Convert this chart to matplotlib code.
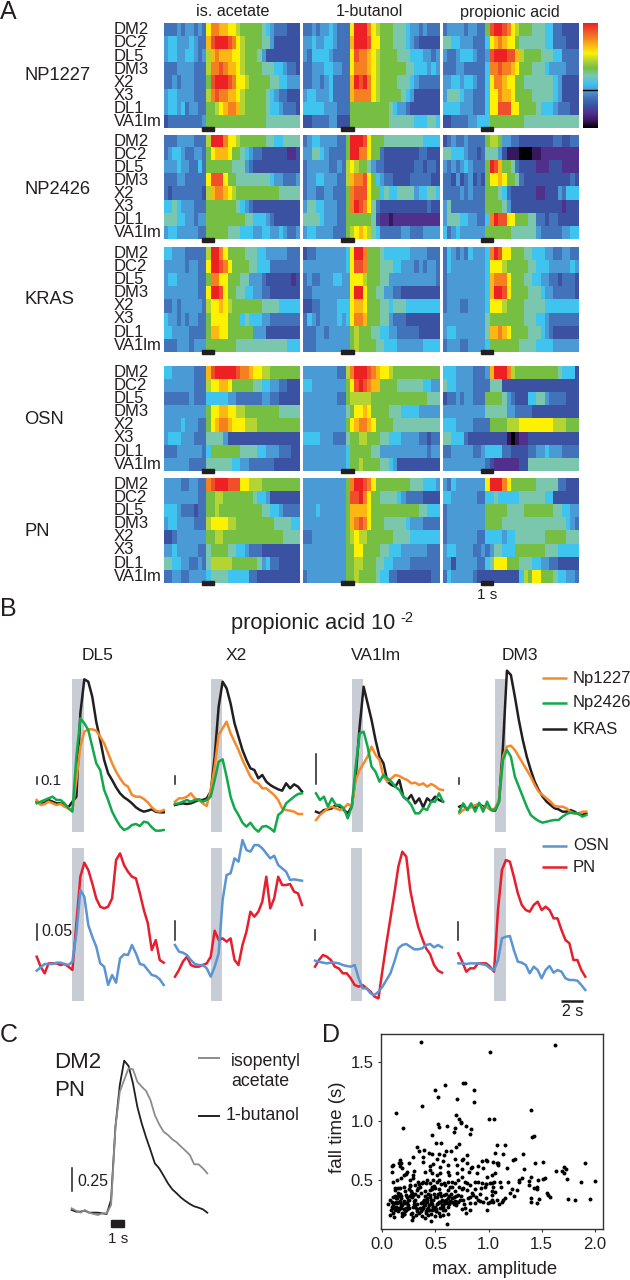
import numpy as np
import matplotlib
matplotlib.use('Agg')
import matplotlib.pyplot as plt
from matplotlib.colors import LinearSegmentedColormap
from matplotlib.lines import Line2D
from matplotlib.patches import Rectangle

plt.rcParams['font.family'] = ['Liberation Sans', 'DejaVu Sans']

W, H = 630, 1280

GLOMERULI = ['DM2', 'DC2', 'DL5', 'DM3', 'X2', 'X3', 'DL1', 'VA1lm']
ODORS = ['is. acetate', '1-butanol', 'propionic acid']
LINES = ['NP1227', 'NP2426', 'KRAS', 'OSN', 'PN']

# heat levels, one hex digit per time bin (0 black ... e red)
NP1227_ACETATE = [
    "4445455454 accbbaa9888 88765444333",
    "5665556544 bdeeedca988 88775333333",
    "5665566545 9bcbbbaa988 87533333333",
    "4445555444 9ccdcbba988 88777665443",
    "4454555444 8deeedcaa98 88887766555",
    "5665555444 9cdccbba988 88876544333",
    "5665645544 889abccb988 88876654443",
    "3444444445 88888888888 88877777777",
]
NP1227_BUTANOL = [
    "4454556544 4aeeeca9888 77765545444",
    "5565566544 4beeedaa888 77765433333",
    "5466665444 4adccba9888 87776665545",
    "4455566554 4acccba9888 88877666565",
    "4455456444 4bedeca9888 87776544444",
    "5665556444 4bcccca9888 88765333333",
    "6666655544 48888888887 65543333333",
    "3344445533 38888888887 77777666776",
]
NP1227_PROPIONIC = [
    "4555545544 8deedca9888 77766443333",
    "7766555444 6abcbaa8777 77766444333",
    "5445666544 5deeeddb988 88777664444",
    "4445544444 6ccdccba888 77765555444",
    "5566566544 6accbaa8877 77777653333",
    "5777655444 6aacbba8888 77777653333",
    "6666555444 6aadddaa888 87666544433",
    "3344445566 68888888877 77777777777",
]
NP2426_ACETATE = [
    "4445555444 9eeecaa9888 88877667777",
    "4566544554 8abbba88765 44333333223",
    "5556554464 88888877754 33333333333",
    "4445544444 addda887777 77776554445",
    "4344444443 9bccba98888 88888877777",
    "6676555444 88888887654 33333333333",
    "7776655455 88888888877 66654333333",
    "5665555544 88888777666 55665565445",
]
NP2426_BUTANOL = [
    "4566555544 8eeeda88877 77777776666",
    "5577654444 8eecca88433 33333344333",
    "4555554454 9a988754433 33333443443",
    "4556655544 9bccda86544 33334444433",
    "4554455444 8cddda88676 67777566776",
    "5776655544 8cedca74333 33333333433",
    "7777655544 88888873221 22222222222",
    "5665555444 89aba976444 44554445555",
]
NP2426_PROPIONIC = [
    "3454454444 89985544333 33333443344",
    "7766654434 77753111000 11222222222",
    "5454565444 8edb8874333 32223332222",
    "4435345343 8aaba887433 33333333343",
    "4444545444 88876433333 32233354666",
    "5744444444 88887533333 33333332333",
    "5777665544 6ceddaa8887 74434433333",
    "6456555555 88888877777 75444445566",
]
KRAS_ACETATE = [
    "6655544444 9eeca888877 76655555444",
    "5555545544 aeedca88887 76664444444",
    "5665555544 8ccaa888775 55433333323",
    "5555555544 aeeda887766 55443333333",
    "4454555554 9aaba988888 88777766666",
    "6554545544 8aaaa888676 66554444444",
    "6655554444 8bbaa888888 55533333333",
    "4445554555 88888887777 77777777666",
]
KRAS_BUTANOL = [
    "3445555555 6aeec888766 66665555444",
    "5555555555 6addc888777 66555454554",
    "4544555665 5aaa9888775 55555555554",
    "4455555555 5aeea887755 44333333333",
    "3344555566 6abba888776 77766666666",
    "4654555565 6accb888775 44433333333",
    "4445545555 58988877665 54444433333",
    "4445555555 58988887766 65555556666",
]
KRAS_PROPIONIC = [
    "4654546555 6cedaa88877 66655445544",
    "4655555555 6aaa9888887 76665555565",
    "4555555555 6bccca88877 66554434443",
    "4555555555 6beeda88887 77655444443",
    "4555445555 6aaa9888877 77766666666",
    "5555555555 78888888877 76654444444",
    "5665555555 7bbcba88887 77654333333",
    "4555445555 68888888777 76666555555",
]
OSN_ACETATE = [
    "6655555444 bdeeeeedccb aa998888888",
    "5555555444 9aabba88888 77665544333",
    "4444445444 66666554444 44554433333",
    "5555555555 8aabbaa9988 88888877777",
    "5555655544 8abccbaaa99 98888888888",
    "5666555444 77775333333 33333333333",
    "4445555554 68888888777 76655544433",
    "5555554444 77777766554 44444333333",
]
OSN_BUTANOL = [
    "5555555544 9ceeedcbaa9 88888888888",
    "6655555555 8adedcbb888 87777776655",
    "5555555544 89999988888 88888888777",
    "5555555555 78aaba88887 77666655555",
    "5555555555 8abccba8888 77777777777",
    "6666555444 78899888776 66555544344",
    "5555555555 68888877555 55555555455",
    "5555555555 68898888776 53333333333",
]
OSN_PROPIONIC = [
    "6665555444 5beeec98888 88888876663",
    "7665555444 47773333333 33333333333",
    "3445455444 88887543336 67754444333",
    "5555555555 77777554444 33333333333",
    "6665555444 48888999aaa aaaaa999888",
    "7766643333 33333101223 33333333333",
    "4455555445 66664433334 45565554444",
    "5555555555 43222222337 77777777777",
]
PN_ACETATE = [
    "5555445544 cdeeedddaa9 99888888888",
    "5555555544 88998888888 76653333333",
    "6665444344 88988888888 88776654444",
    "5665555444 9aaaa998888 88888777766",
    "3345555555 88998888888 88888887777",
    "5565555544 78888776654 44333333333",
    "7766554454 79999988888 87564433333",
    "4455445555 67777666664 43333333333",
]
PN_BUTANOL = [
    "5555555555 8ceedca8888 88887776665",
    "5555555555 8ddeca88777 76544443333",
    "5556555555 8bbbba88888 88888877666",
    "5555555555 8bcdca88877 77765554444",
    "4455555555 89a99888888 77776666666",
    "5555555555 88aa8888776 66555555444",
    "5555555555 88998887766 55554444444",
    "4555555555 88988887664 43333333344",
]
PN_PROPIONIC = [
    "5465555555 aeeeca88888 87777744333",
    "6655555544 66766666777 77766333333",
    "4555555555 88888777788 88888776655",
    "4555555555 88887777777 77777777654",
    "4555555544 66665667777 77788888777",
    "5665555445 45776668888 88877766666",
    "5535555544 67aaa888777 66554433333",
    "4655555433 33333333698 aa888766554",
]
HEAT = [
    [NP1227_ACETATE, NP1227_BUTANOL, NP1227_PROPIONIC],
    [NP2426_ACETATE, NP2426_BUTANOL, NP2426_PROPIONIC],
    [KRAS_ACETATE, KRAS_BUTANOL, KRAS_PROPIONIC],
    [OSN_ACETATE, OSN_BUTANOL, OSN_PROPIONIC],
    [PN_ACETATE, PN_BUTANOL, PN_PROPIONIC],
]
HEAT_COLORS = ['#000000', '#38195f', '#52308f', '#3b54a4', '#4272b9', '#4a9bd6', '#3fc4f0',
               '#7bc8b0', '#76bf43', '#b4d433', '#fff200', '#fdb913', '#f58220', '#f1512a', '#ed2024']

# panel B traces, response per time bin (arbitrary units)
B_TITLES = ['DL5', 'X2', 'VA1lm', 'DM3']
KRAS_TRACE = [
    [91, 84, 88, 96, 91, 86, 86, 81, 74, 91, 106, 356, 458, 451, 406, 331, 276, 216, 176, 156, 134, 116, 104, 96, 86, 74, 66, 61, 64, 68, 61, 59, 59],
    [81, 84, 86, 84, 86, 91, 96, 96, 101, 121, 226, 376, 451, 431, 386, 326, 286, 246, 216, 191, 186, 161, 171, 151, 141, 134, 128, 124, 146, 131, 143, 136, 121],
    [61, 56, 66, 68, 71, 81, 76, 66, 56, 76, 166, 316, 436, 386, 336, 276, 226, 206, 151, 141, 136, 156, 106, 96, 111, 86, 101, 74, 101, 91, 106, 96, 91],
    [76, 81, 66, 81, 71, 84, 76, 76, 66, 64, 91, 256, 484, 471, 406, 336, 276, 226, 186, 151, 126, 106, 91, 81, 71, 68, 61, 61, 66, 61, 54, 51, 56],
]
NP1227_TRACE = [
    [96, 81, 84, 91, 86, 81, 84, 76, 71, 66, 156, 256, 301, 308, 308, 304, 286, 266, 236, 206, 181, 161, 144, 136, 111, 106, 106, 99, 89, 74, 64, 61, 66],
    [91, 101, 101, 106, 116, 101, 96, 86, 78, 126, 196, 291, 311, 331, 296, 271, 246, 216, 191, 166, 151, 146, 131, 131, 121, 111, 96, 71, 66, 64, 61, 54, 54],
    [36, 51, 61, 71, 76, 71, 66, 71, 84, 76, 156, 186, 206, 226, 256, 231, 216, 166, 151, 161, 171, 168, 161, 156, 146, 148, 141, 146, 136, 144, 138, 128, 126],
    [56, 66, 71, 74, 81, 84, 71, 76, 66, 71, 96, 226, 256, 259, 246, 226, 206, 186, 166, 141, 121, 111, 101, 91, 78, 76, 76, 71, 61, 56, 56, 61, 61],
]
NP2426_TRACE = [
    [86, 91, 96, 101, 106, 96, 96, 86, 71, 61, 226, 341, 326, 306, 256, 206, 186, 126, 96, 61, 38, 18, 6, 11, 21, 24, 18, 31, 28, 14, 4, 4, 6],
    [84, 86, 91, 96, 91, 96, 98, 91, 96, 106, 156, 211, 218, 166, 106, 71, 51, 28, 16, 28, 11, 1, 16, 18, 11, 1, 51, 61, 86, 96, 106, 114, 116],
    [116, 96, 106, 76, 101, 81, 81, 71, 41, 76, 196, 296, 301, 256, 196, 181, 151, 171, 161, 151, 136, 126, 106, 96, 81, 56, 56, 71, 66, 91, 91, 116, 91],
    [61, 86, 66, 86, 61, 88, 61, 91, 66, 66, 91, 216, 246, 226, 166, 136, 106, 76, 51, 41, 33, 28, 31, 34, 36, 36, 46, 54, 58, 56, 56, 46, 51],
]
PN_TRACE = [
    [133, 103, 83, 113, 113, 113, 108, 111, 103, 93, 233, 373, 415, 393, 353, 308, 283, 278, 283, 308, 423, 443, 408, 388, 373, 368, 323, 273, 233, 153, 183, 123, 115],
    [73, 93, 118, 133, 108, 103, 103, 108, 113, 133, 211, 183, 188, 178, 188, 123, 108, 168, 208, 268, 253, 268, 298, 373, 278, 308, 373, 348, 348, 351, 328, 323, 288],
    [103, 123, 138, 133, 123, 103, 98, 83, 83, 68, 48, 43, 48, 38, 28, 13, 8, 93, 173, 248, 323, 403, 448, 433, 333, 273, 223, 188, 158, 141, 108, 91, 85],
    [143, 118, 88, 98, 98, 113, 113, 113, 103, 88, 273, 393, 423, 418, 373, 323, 288, 273, 268, 288, 298, 273, 283, 273, 248, 248, 213, 183, 173, 123, 123, 93, 73],
]
OSN_TRACE = [
    [91, 101, 111, 111, 111, 115, 115, 111, 108, 118, 203, 333, 313, 228, 193, 163, 113, 103, 48, 78, 55, 128, 140, 138, 168, 143, 111, 108, 93, 78, 75, 65, 48],
    [168, 148, 145, 138, 123, 111, 108, 108, 98, 73, 103, 143, 303, 378, 383, 428, 418, 483, 453, 448, 468, 468, 458, 443, 428, 436, 408, 398, 388, 363, 365, 363, 361],
    [121, 118, 115, 113, 115, 115, 113, 108, 105, 103, 108, 68, 38, 38, 23, 18, 28, 43, 63, 83, 118, 158, 168, 171, 163, 155, 155, 158, 168, 171, 161, 168, 161],
    [113, 113, 111, 113, 113, 113, 110, 108, 98, 93, 123, 188, 193, 195, 153, 118, 115, 108, 83, 103, 93, 68, 93, 105, 85, 93, 88, 68, 63, 63, 61, 48, 33],
]
SCALE_UPPER = [22, 25, 90, 18]
SCALE_LOWER = [48, 57, 30, 54]

# panel C
ISOPENTYL_TRACE = [35, 28, 22, 30, 22, 18, 15, 20, 20, 45, 280, 385, 420, 455, 452, 415, 400, 387, 360, 315, 287, 265, 255, 242, 233, 220, 208, 195, 167, 167, 155, 140]
BUTANOL_TRACE = [30, 25, 25, 28, 22, 22, 22, 20, 18, 60, 280, 405, 478, 462, 410, 340, 290, 248, 210, 170, 155, 133, 110, 92, 80, 67, 57, 48, 41, 37, 32, 22]

AMP_OUTLIERS = [.364, 1.01, 1.62, .78, .76, .59, .50, .86, .52, .70, .86, .37, .125, 1.40, .69, .725, .74, 1.0, 1.05, .195, .52, .53, .61, .685, .67, .745, .785, .83, .825, .47, 1.405, 1.43]
FALL_OUTLIERS = [1.676, 1.59, 1.645, 1.32, 1.32, 1.31, 1.26, 1.26, 1.20, 1.19, 1.16, 1.13, 1.07, 1.09, 1.05, 1.02, .99, 1.02, 1.02, .94, .97, .945, .955, .94, .905, .98, .96, .93, .89, .88, .86, .87]
AMP_RIGHT = [1.076, 1.154, 1.14, 1.06, 1.327, 1.23, 1.25, 1.045, 1.08, 1.09, 1.17, 1.436, 1.515, 1.336, 1.317, 1.29, 1.286, 1.185, 1.107, 1.113, 1.05, 1.03, 1.04, 1.06, 1.03, 1.395, 1.38, 1.383, 1.427, 1.452, 1.468, 1.452, 1.509, 1.53, 1.217, 1.27, 1.2, 1.24, 1.395, 1.474, 1.395, 1.452, 1.546, 1.562, 1.577, 1.154, 1.138, 1.123, 1.10, 1.03, 1.045, 1.63, 1.687, 1.709, 1.728, 1.709, 1.74, 1.907, 1.866, 2.0, 1.75, 1.813, 1.954]
FALL_RIGHT = [.795, .795, .72, .73, .716, .667, .673, .647, .64, .625, .596, .642, .653, .588, .517, .497, .477, .477, .483, .44, .483, .468, .44, .397, .369, .52, .488, .454, .426, .44, .497, .417, .503, .511, .42, .412, .383, .363, .346, .335, .307, .298, .383, .369, .349, .34, .326, .312, .292, .326, .312, .576, .576, .605, .588, .554, .505, .639, .483, .488, .332, .326, .335]
AMP_MID = [.33, .348, .395, .442, .464, .502, .549, .6, .643, .693, .721, .53, .58, .511, .292, .38, .684, .746, .8, .762, .166, .157, .088, .103, .251, .166, .182, .172, .386, .448, .473, .542, .62, .568, .699, .8, .84, .903, .934, .987, .95, .98, .229, .223, .3, .292, .094, .097, .135, .172, .2, .26, .292, .401, .448, .464, .542, .511, .62, .627, .699, .746, .818, .831, .887, .981, 1.03, 1.06, 1.09]
FALL_MID = [.78, .744, .753, .73, .718, .815, .815, .744, .747, .78, .80, .718, .71, .68, .696, .696, .68, .667, .71, .673, .667, .639, .619, .625, .639, .616, .596, .639, .653, .619, .63, .61, .625, .662, .625, .639, .61, .616, .662, .662, .602, .667, .568, .548, .576, .54, .562, .477, .497, .511, .54, .497, .511, .568, .582, .554, .559, .54, .568, .54, .554, .588, .568, .596, .554, .525, .54, .554, .639]
AMP_BAND = [.339, .386, .417, .448, .48, .511, .536, .589, .62, .652, .684, .715, .746, .778, .825, .872, .903, .934, .975, 1.013, .26, .307, .2, .15, .119]
FALL_BAND = [.483, .483, .497, .468, .497, .483, .497, .454, .483, .483, .468, .497, .525, .483, .454, .483, .483, .468, .46, .468, .454, .454, .44, .426, .426]
AMP_R1 = [.119, .166, .213, .254, .276, .292, .329, .354, .401, .433, .464, .495, .542, .58, .615, .652, .684, .715, .762, .8, .84, .872, .919, .966, 1.029]
FALL_R1 = [.41, .38, .40, .42, .39, .37, .41, .44, .40, .38, .42, .43, .39, .37, .41, .44, .40, .37, .43, .41, .39, .42, .38, .44, .40]
AMP_R2 = [.072, .097, .129, .15, .172, .204, .235, .266, .307, .339, .386, .417, .448, .48, .517, .558, .589, .62, .652, .693, .731, .825, .872, .919, .975, 1.013, 1.076]
FALL_R2 = [.33, .35, .31, .36, .34, .32, .35, .37, .33, .36, .31, .34, .37, .33, .35, .32, .30, .34, .31, .36, .33, .35, .30, .32, .34, .31, .33]
AMP_R3 = [.056, .088, .11, .135, .16, .182, .204, .229, .292, .323, .354, .379, .401, .423, .455, .48, .511, .542, .574, .605, .636, .674, .715, .778, .825, .903, .95, .997]
FALL_R3 = [.29, .27, .30, .26, .31, .28, .25, .30, .27, .29, .26, .31, .28, .25, .30, .27, .29, .31, .28, .30, .32, .29, .31, .26, .30, .33, .31, .30]
AMP_R4 = [.078, .103, .129, .15, .172, .2, .223, .276, .323, .361, .386, .411, .433, .455, .48, .505, .536, .574, .62, .746, .787, .825, .981]
FALL_R4 = [.24, .22, .25, .23, .26, .21, .24, .22, .25, .23, .26, .22, .24, .21, .25, .23, .22, .24, .21, .25, .22, .24, .24]
AMP_R5 = [.072, .11, .19, .276, .285, .37, .401, .455, .495, .542, .568, .605]
FALL_R5 = [.198, .184, .19, .16, .18, .19, .17, .145, .19, .19, .2, .125]
AMP_DENSE = [.12, .14, .17, .19, .22, .25, .27, .31, .34, .36, .4, .42, .44, .46, .49, .52, .55, .57, .6, .63, .13, .15, .18, .21, .24, .28, .33, .37, .39, .43, .47, .5, .53, .56, .59, .66, .09, .11, .14, .16, .19, .21, .25, .3, .35, .38, .41, .45, .47, .51, .54, .61]
FALL_DENSE = [.36, .30, .32, .29, .37, .33, .40, .38, .43, .30, .36, .31, .28, .33, .38, .30, .36, .27, .38, .36, .27, .25, .28, .23, .28, .35, .23, .25, .33, .26, .24, .27, .31, .33, .24, .34, .31, .26, .34, .25, .22, .30, .26, .32, .22, .27, .23, .35, .29, .23, .26, .31]
AMP_DENSE2 = [.1, .13, .16, .2, .23, .26, .3, .33, .36, .39, .42, .45, .48, .5, .53, .56, .6, .63, .67, .7, .74, .77, .81, .85, .12, .15, .18, .22, .24, .27, .31, .35, .38, .41, .44, .47, .52, .55, .58, .62, .65, .68, .72, .76, .8, .88, .93, .98, .17, .2, .26, .32, .37, .43, .49, .51, .58, .64, .69, .75]
FALL_DENSE2 = [.28, .34, .26, .31, .25, .36, .29, .25, .39, .29, .33, .41, .27, .35, .42, .28, .33, .29, .35, .31, .36, .29, .34, .37, .24, .39, .36, .26, .33, .21, .27, .46, .31, .47, .24, .44, .38, .46, .32, .27, .38, .32, .44, .33, .47, .35, .43, .46, .43, .21, .45, .2, .47, .2, .45, .25, .47, .44, .28, .42]

ORANGE = '#f58a2c'
GREEN = '#12a84c'
BLACK = '#231f20'
BLUE = '#5b94d2'
RED = '#e61e2d'
GRAY_BAR = '#c8ccd4'


def px_axes(fig, x0, y0, x1, y1):
    # axes from pixel box, y counted from the top of the image
    ax = fig.add_axes([x0 / W, 1 - y1 / H, (x1 - x0) / W, (y1 - y0) / H])
    return ax


def px_text(fig, x, y, s, size=10, ha='left', **kw):
    fig.text(x / W, 1 - y / H, s, fontsize=size, ha=ha, va='center', color=BLACK, **kw)


def px_line(fig, x0, x1, y, color, lw=1.8):
    fig.add_artist(Line2D([x0 / W, x1 / W], [1 - y / H, 1 - y / H], color=color, lw=lw,
                          transform=fig.transFigure, solid_capstyle='butt'))


def parse_rows(rows):
    out = []
    for row in rows:
        row = row.replace(' ', '')
        out.append([int(c, 16) for c in row[:32].ljust(32, row[-1])])
    return np.array(out)


fig = plt.figure(figsize=(W / 100, H / 100), dpi=100)
cmap = LinearSegmentedColormap.from_list('heat', HEAT_COLORS, N=256)

# A: heat maps
heat_x = [(164, 300), (303.3, 439.7), (443, 579)]
heat_y = [(23.3, 128.3), (134.7, 239.5), (246.7, 351.7), (366, 470.7), (478, 582.7)]
name_y = [76, 189, 300, 419, 531]

for g, (y0, y1) in enumerate(heat_y):
    row_h = (y1 - y0) / 8
    for p, (x0, x1) in enumerate(heat_x):
        ax = px_axes(fig, x0, y0, x1, y1)
        ax.imshow(parse_rows(HEAT[g][p]), cmap=cmap, vmin=0, vmax=14, aspect='auto',
                  interpolation='nearest', extent=(0, 32, 8, 0))
        ax.set_axis_off()
        ax.add_patch(Rectangle((8.9, 7.9), 2.9, 0.27, color=BLACK, clip_on=False, zorder=5))
    for r, label in enumerate(GLOMERULI):
        px_text(fig, 114, y0 + (r + 0.5) * row_h, label, size=12)
    px_text(fig, 24.5, name_y[g], LINES[g], size=13.2)

for p, x in enumerate([233, 369, 510]):
    px_text(fig, x, 12, ODORS[p], size=11.6, ha='center')
px_text(fig, 487, 595, '1 s', size=11, ha='center')

cax = px_axes(fig, 583.3, 23.3, 597.7, 128.3)
cax.imshow(np.linspace(14, 0, 256).reshape(-1, 1), cmap=cmap, vmin=0, vmax=14, aspect='auto',
           extent=(0, 1, 0, 14))
cax.axhline(5.13, color='black', lw=1)
cax.set_axis_off()

px_text(fig, 0, 12, 'A', size=18)
px_text(fig, 0, 609, 'B', size=18)
px_text(fig, 0, 1035, 'C', size=18)
px_text(fig, 322, 1035, 'D', size=18)

# B: traces
DT = 0.36
t = np.arange(33) * DT
upper_x = [36.7, 175, 316, 459.3]
lower_x = [36.7, 175, 315, 458.3]

px_text(fig, 231, 623, 'propionic acid 10', size=15.7)
px_text(fig, 400, 618, '-2', size=10.5)
for i, x in enumerate([98, 236, 376, 520]):
    px_text(fig, x, 656, B_TITLES[i], size=12.5, ha='center')

for i in range(4):
    ax = px_axes(fig, upper_x[i], 679, upper_x[i] + 127, 832)
    ax.set_xlim(0, 32 * DT)
    ax.set_ylim(0, 459)
    ax.set_axis_off()
    ax.axvspan(3.24, 4.28, color=GRAY_BAR, lw=0, zorder=1)
    ax.plot(t, KRAS_TRACE[i], color=BLACK, lw=1.8, clip_on=False, zorder=2)
    ax.plot(t, NP1227_TRACE[i], color=ORANGE, lw=1.8, clip_on=False, zorder=3)
    ax.plot(t, NP2426_TRACE[i], color=GREEN, lw=1.8, clip_on=False, zorder=4)
    ax.plot([0, 0], [144, 144 + SCALE_UPPER[i]], color=BLACK, lw=1.1, clip_on=False)

    ax = px_axes(fig, lower_x[i], 847.7, lower_x[i] + 127, 1001)
    ax.set_xlim(0, 32 * DT)
    ax.set_ylim(0, 460)
    ax.set_axis_off()
    ax.axvspan(3.24, 4.3, color=GRAY_BAR, lw=0, zorder=1)
    ax.plot(t, PN_TRACE[i], color=RED, lw=1.8, clip_on=False, zorder=3)
    ax.plot(t, OSN_TRACE[i], color=BLUE, lw=1.8, clip_on=False, zorder=4)
    ax.plot([0, 0], [183, 183 + SCALE_LOWER[i]], color=BLACK, lw=1.1, clip_on=False)
    if i == 3:
        ax.plot([9.3, 11.3], [1, 1], color=BLACK, lw=1.8, clip_on=False, solid_capstyle='butt')

px_text(fig, 40, 781, '0.1', size=11)
px_text(fig, 41, 932, '0.05', size=11.5)
px_text(fig, 573, 1012, '2 s', size=11.5, ha='center')

for y, c, s in [(678, ORANGE, 'Np1227'), (703, GREEN, 'Np2426'), (729, BLACK, 'KRAS'), (846, BLUE, 'OSN'), (867, RED, 'PN')]:
    px_line(fig, 542, 567, y, c)
    px_text(fig, 573, y, s, size=12)

# C
ax = px_axes(fig, 71.7, 1053.3, 207.3, 1220)
tc = np.arange(32) * 0.33
ax.set_xlim(0, 31 * 0.33)
ax.set_ylim(0, 500)
ax.set_axis_off()
ax.plot(tc, BUTANOL_TRACE, color=BLACK, lw=1.3, clip_on=False)
ax.plot(tc, ISOPENTYL_TRACE, color='#8c8c8c', lw=1.3, clip_on=False)
ax.plot([0, 0], [87, 155], color=BLACK, lw=1.1, clip_on=False)
ax.add_patch(Rectangle((2.95, -20), 1.0, 20, color=BLACK, clip_on=False))

px_text(fig, 54, 1063, 'DM2', size=16)
px_text(fig, 54, 1090, 'PN', size=16)
px_text(fig, 77, 1181, '0.25', size=11.5)
px_text(fig, 118, 1239, '1 s', size=11, ha='center')
px_line(fig, 198, 220, 1058, '#8c8c8c', lw=1.4)
px_text(fig, 231, 1061, 'isopentyl', size=12.8)
px_text(fig, 231, 1082, 'acetate', size=12.8)
px_line(fig, 198, 220, 1116, BLACK, lw=1.4)
px_text(fig, 226, 1116, '1-butanol', size=12.8)

# D
amp = AMP_OUTLIERS + AMP_RIGHT + AMP_MID + AMP_BAND + AMP_R1 + AMP_R2 + AMP_R3 + AMP_R4 + AMP_R5 + AMP_DENSE + AMP_DENSE2
fall = FALL_OUTLIERS + FALL_RIGHT + FALL_MID + FALL_BAND + FALL_R1 + FALL_R2 + FALL_R3 + FALL_R4 + FALL_R5 + FALL_DENSE + FALL_DENSE2
ax = px_axes(fig, 381, 1034, 603.3, 1229.3)
ax.scatter(amp, fall, s=8, color='black', linewidths=0)
ax.set_xlim(-0.012, 2.079)
ax.set_ylim(0.077, 1.741)
ax.set_xticks([0, 0.5, 1.0, 1.5, 2.0])
ax.set_xticklabels(['0.0', '0.5', '1.0', '1.5', '2.0'])
ax.set_yticks([0.5, 1.0, 1.5])
ax.set_yticklabels(['0.5', '1.0', '1.5'])
ax.tick_params(labelsize=12, length=2.5, width=0.8, color='#333333', labelcolor=BLACK, pad=3)
for spine in ax.spines.values():
    spine.set_color('#333333')
    spine.set_linewidth(1)
px_text(fig, 495, 1270, 'max. amplitude', size=13.3, ha='center')
fig.text(338 / W, 1 - 1127 / H, 'fall time (s)', fontsize=13.5, rotation=90, ha='center', va='center', color=BLACK)

fig.savefig('out.png', dpi=100)
